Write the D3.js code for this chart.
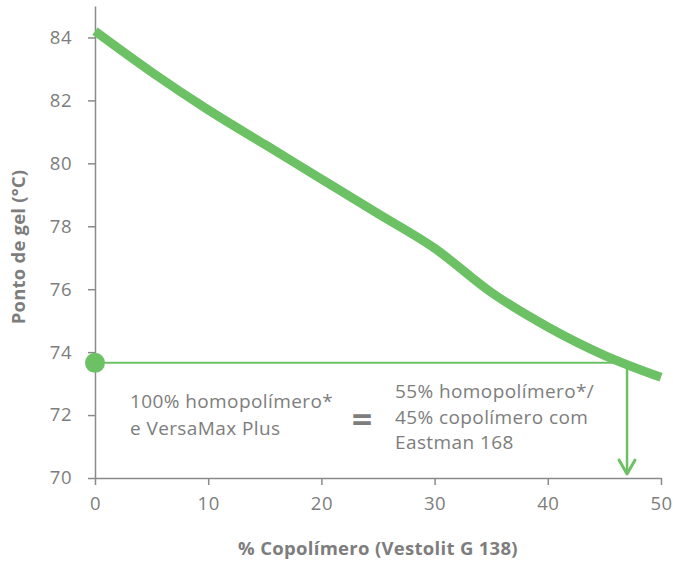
<!DOCTYPE html>
<html>
<head>
<meta charset="utf-8">
<script src="https://cdn.jsdelivr.net/npm/d3@7"></script>
<style>
  body { margin: 0; background: #fff; }
  text { font-family: "Open Sans", "Noto Sans", sans-serif; }
</style>
</head>
<body>
<div id="chart"></div>
<script>
// data
var copolymer = [0, 5, 10, 15, 20, 25, 30, 35, 40, 45, 50];
var gelPoint = [84.2, 82.9, 81.7, 80.6, 79.5, 78.4, 77.3, 75.9, 74.8, 73.9, 73.2];
var xTicks = [0, 10, 20, 30, 40, 50];
var yTicks = [70, 72, 74, 76, 78, 80, 82, 84];
var refLevel = 73.66;     // gel point of 100% homopolymer + VersaMax Plus
var refCopolymer = 47;    // matching copolymer share
var leftNote = ["100% homopolímero*", "e VersaMax Plus"];
var rightNote = ["55% homopolímero*/", "45% copolímero com", "Eastman 168"];

var width = 673, height = 562;
var green = "#6cc165", grey = "#7d7d7d", axisGrey = "#8a8a8a";

var svg = d3.select("#chart").append("svg")
  .attr("width", width)
  .attr("height", height);

var x = d3.scaleLinear().domain([0, 50]).range([95, 661]);
var y = d3.scaleLinear().domain([70, 85]).range([478, 6]);

// axes
var xAxis = svg.append("g")
  .attr("transform", "translate(0," + y(70) + ")")
  .call(d3.axisBottom(x).tickValues(xTicks).tickSize(7).tickPadding(12).tickSizeOuter(0));
var yAxis = svg.append("g")
  .attr("transform", "translate(" + x(0) + ",0)")
  .call(d3.axisLeft(y).tickValues(yTicks).tickSize(7).tickPadding(16).tickSizeOuter(0));

[xAxis, yAxis].forEach(function(a) {
  a.select(".domain").attr("stroke", axisGrey).attr("stroke-width", 1.5);
  a.selectAll(".tick line").attr("stroke", axisGrey).attr("stroke-width", 1.5);
  a.selectAll(".tick text")
    .attr("fill", grey)
    .style("font-size", "18.5px")
    .style("letter-spacing", "0.5px")
    .style("font-family", "'Open Sans', sans-serif");
});

// axis titles
svg.append("text")
  .attr("x", 378).attr("y", 555)
  .attr("text-anchor", "middle")
  .attr("fill", grey)
  .style("font-size", "18.5px").style("font-weight", "bold")
  .style("letter-spacing", "0.3px")
  .text("% Copolímero (Vestolit G 138)");

svg.append("text")
  .attr("transform", "translate(25," + 247 + ") rotate(-90)")
  .attr("text-anchor", "middle")
  .attr("fill", grey)
  .style("font-size", "18.5px").style("font-weight", "bold")
  .style("letter-spacing", "0.2px")
  .text("Ponto de gel (°C)");

// main curve
var line = d3.line()
  .x(function(d, i) { return x(copolymer[i]); })
  .y(function(d) { return y(d); })
  .curve(d3.curveCatmullRom.alpha(0.5));

svg.append("path")
  .datum(gelPoint)
  .attr("d", line)
  .attr("fill", "none")
  .attr("stroke", green)
  .attr("stroke-width", 9);

// reference line and arrow
svg.append("line")
  .attr("x1", x(0)).attr("x2", x(refCopolymer))
  .attr("y1", y(refLevel)).attr("y2", y(refLevel))
  .attr("stroke", green).attr("stroke-width", 2);

svg.append("line")
  .attr("x1", x(refCopolymer)).attr("x2", x(refCopolymer))
  .attr("y1", y(refLevel)).attr("y2", y(70) - 4)
  .attr("stroke", green).attr("stroke-width", 2.5);

svg.append("path")
  .attr("d", "M" + (x(refCopolymer) - 8) + "," + (y(70) - 18) +
             "L" + x(refCopolymer) + "," + (y(70) - 4) +
             "L" + (x(refCopolymer) + 8) + "," + (y(70) - 18))
  .attr("fill", "none")
  .attr("stroke", green).attr("stroke-width", 3)
  .attr("stroke-linecap", "round").attr("stroke-linejoin", "round");

svg.append("circle")
  .attr("cx", x(0)).attr("cy", y(refLevel))
  .attr("r", 10)
  .attr("fill", green);

// notes
svg.append("text")
  .attr("fill", grey)
  .style("font-size", "19px")
  .style("letter-spacing", "0.4px")
  .selectAll("tspan")
  .data(leftNote)
  .enter().append("tspan")
  .attr("x", 130)
  .attr("y", function(d, i) { return 408 + i * 26.5; })
  .text(function(d) { return d; });

svg.append("text")
  .attr("x", 362).attr("y", 432)
  .attr("text-anchor", "middle")
  .attr("fill", grey)
  .style("font-size", "36px")
  .style("font-weight", "bold")
  .text("=");

svg.append("text")
  .attr("fill", grey)
  .style("font-size", "19px")
  .style("letter-spacing", "0.4px")
  .selectAll("tspan")
  .data(rightNote)
  .enter().append("tspan")
  .attr("x", 395)
  .attr("y", function(d, i) { return 398 + i * 25.5; })
  .text(function(d) { return d; });
</script>
</body>
</html>
